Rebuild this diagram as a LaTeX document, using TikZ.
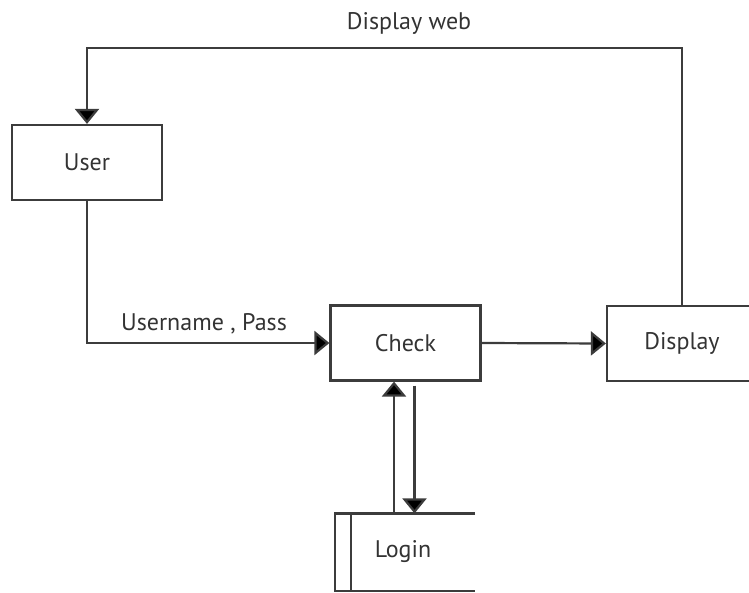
\documentclass[tikz,border=0pt]{standalone}
\usepackage{fontspec}
\setmainfont{PT Sans}
\usetikzlibrary{arrows.meta}
\definecolor{linec}{HTML}{3C3C3C}
\definecolor{textc}{HTML}{333333}
\begin{document}
\begin{tikzpicture}[x=1pt,y=-1pt,
  box/.style={draw=linec,line width=2.2pt,minimum width=150pt,minimum height=75pt,inner sep=0pt,text=textc,font=\fontsize{24}{28}\selectfont},
  lbl/.style={text=textc,font=\fontsize{24}{28}\selectfont,inner sep=0pt},
  flow/.style={draw=linec,line width=2.2pt,-{Triangle[width=24pt,length=15pt,fill=black]}}]
\useasboundingbox (0,0) rectangle (749,592);
\node[box] (user) at (87,162.5) {User};
\node[box] (check) at (405.5,343) {Check};
\node[box] (display) at (682,343.5) {Display};
\node[box,draw=none] (login) at (405,552) {\hspace*{-4pt}Login};
\draw[linec,line width=2.2pt] ([xshift=70pt]login.north) -- ([xshift=-70pt]login.north) coordinate (lnw)
  -- ([xshift=-70pt]login.south) -- ([xshift=70pt]login.south);
\draw[linec,line width=2.2pt] ([xshift=-54pt]login.north) -- ([xshift=-54pt]login.south);
\coordinate (tl) at (87,48);
\coordinate (tr) at (681,48);
\draw[flow] (display.north) -- (display.north |- tr) -- (tl) -- (user.north);
\node[lbl] (dweb) at (409,23) {Display web};
\draw[flow] (user.south) |- (check.west);
\node[lbl] (up) at (204,324) {Username , Pass};
\draw[flow] (check.east) -- (display.west);
\draw[flow] ([xshift=-11pt]login.north) -- ([xshift=-11pt]login.north |- check.south);
\draw[flow] ([xshift=9pt,yshift=-4pt]check.south) -- ([xshift=9pt]check.south |- login.north);
\end{tikzpicture}
\end{document}
